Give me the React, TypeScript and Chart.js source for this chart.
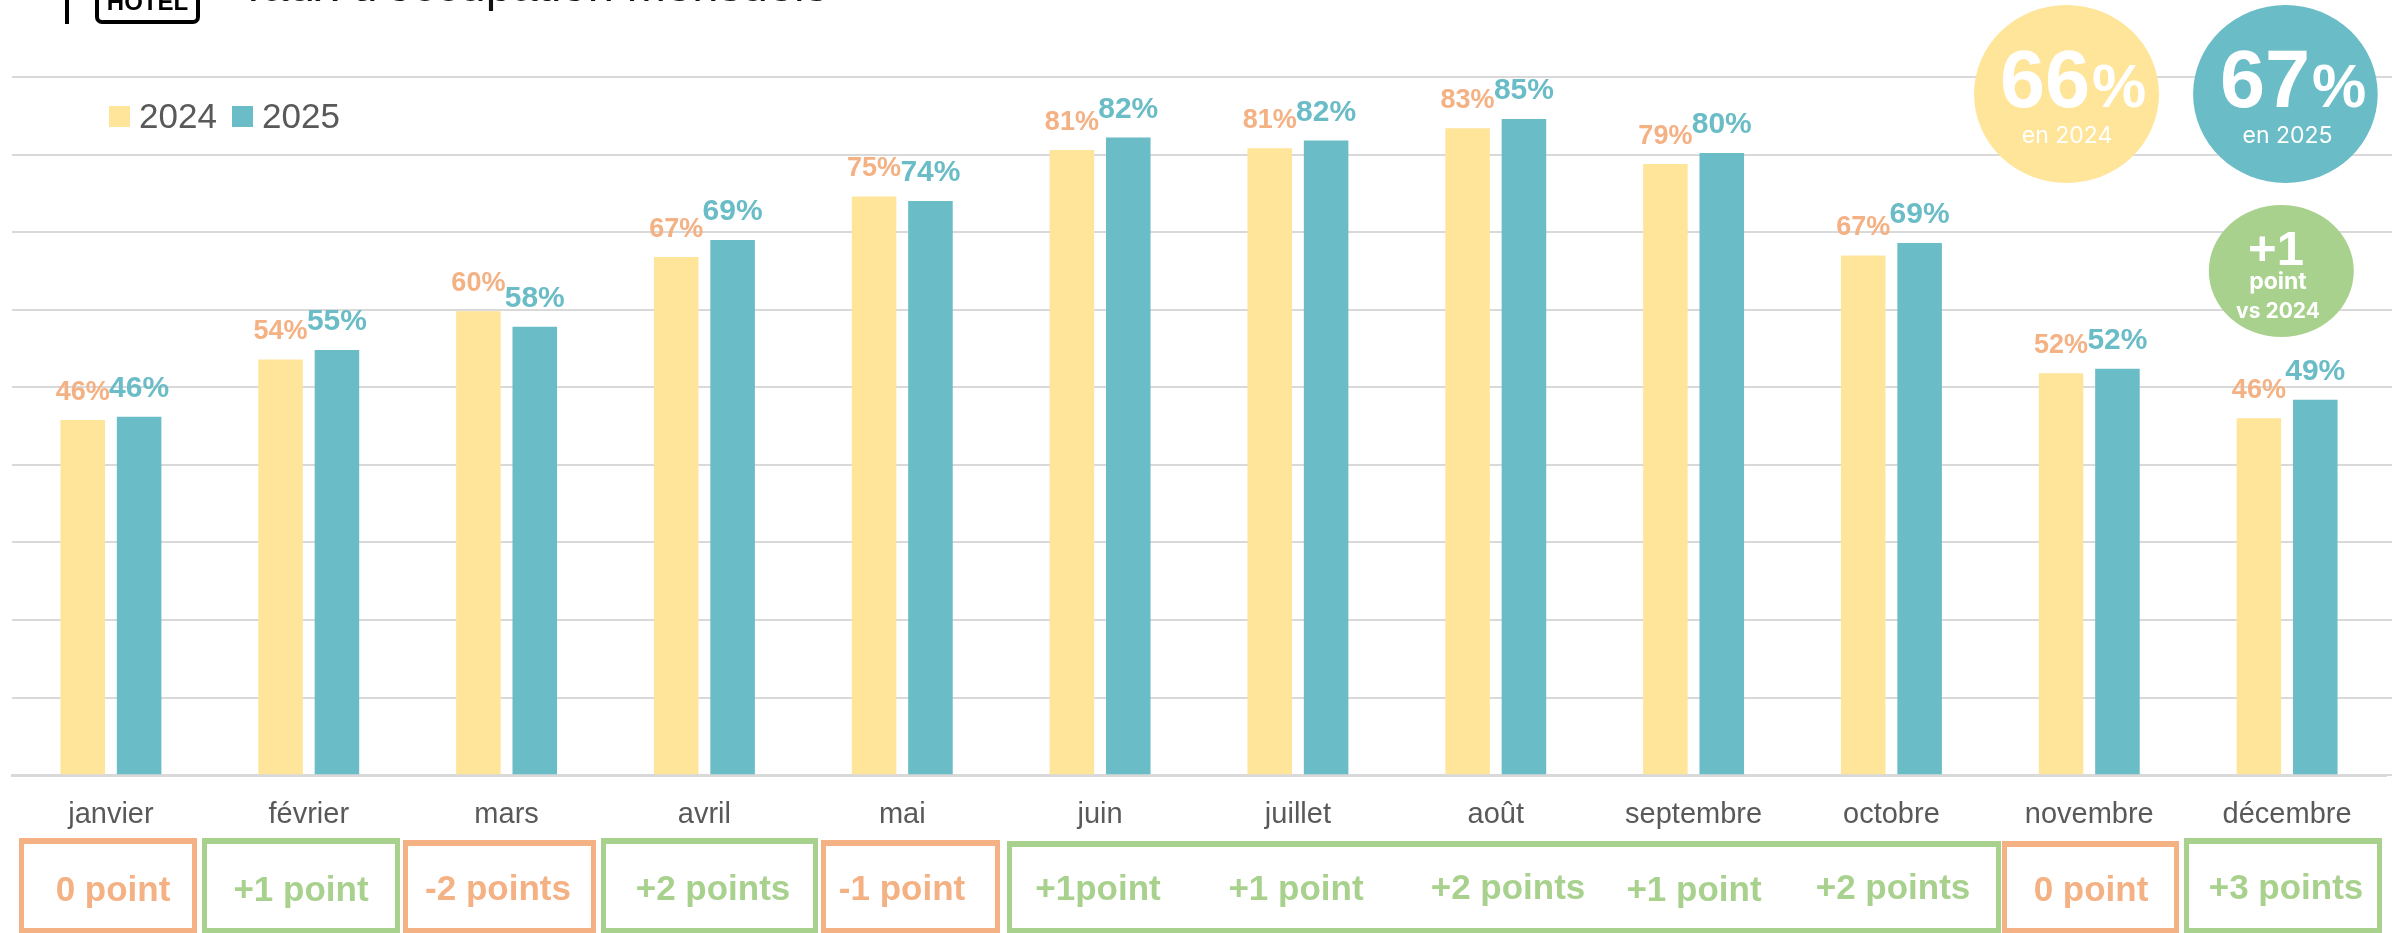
import React, { useEffect, useRef } from "react";
import { Chart, registerables } from "chart.js";

Chart.register(...registerables);

const months = ["janvier","février","mars","avril","mai","juin","juillet","août","septembre","octobre","novembre","décembre"];
const values2024 = [45.8,53.6,59.8,66.8,74.6,80.6,80.8,83.4,78.8,67.0,51.8,46.0];
const values2025 = [46.2,54.8,57.8,69.0,74.0,82.2,81.8,84.6,80.2,68.6,52.4,48.4];
const labels2024 = ["46%","54%","60%","67%","75%","81%","81%","83%","79%","67%","52%","46%"];
const labels2025 = ["46%","55%","58%","69%","74%","82%","82%","85%","80%","69%","52%","49%"];
const yearNames = ["2024","2025"];

const YELLOW = "#FFE599";
const TEAL = "#6ABCC6";
const ORANGE = "#F4B183";
const GREEN = "#A9D18E";
const GREY = "#595959";
const GRID = "#D9D9D9";
const SANS = "'Liberation Sans', Arial, sans-serif";
const INTER = "Inter, sans-serif";

type Box = { left: number; right: number; top: number; color: string };
const boxes: Box[] = [
  { left: 19, right: 197, top: 838, color: ORANGE },
  { left: 202, right: 400, top: 838, color: GREEN },
  { left: 403, right: 596, top: 840, color: ORANGE },
  { left: 601, right: 818, top: 838, color: GREEN },
  { left: 821, right: 1000, top: 840, color: ORANGE },
  { left: 1007, right: 2001, top: 841, color: GREEN },
  { left: 2002, right: 2179, top: 841, color: ORANGE },
  { left: 2184, right: 2382, top: 838, color: GREEN },
];
type Note = { text: string; cx: number; cy: number; color: string };
const notes: Note[] = [
  { text: "0 point", cx: 113, cy: 889, color: ORANGE },
  { text: "+1 point", cx: 301, cy: 889, color: GREEN },
  { text: "-2 points", cx: 498, cy: 888, color: ORANGE },
  { text: "+2 points", cx: 713, cy: 888, color: GREEN },
  { text: "-1 point", cx: 902, cy: 888, color: ORANGE },
  { text: "+1point", cx: 1098, cy: 888, color: GREEN },
  { text: "+1 point", cx: 1296, cy: 888, color: GREEN },
  { text: "+2 points", cx: 1508, cy: 887, color: GREEN },
  { text: "+1 point", cx: 1694, cy: 889, color: GREEN },
  { text: "+2 points", cx: 1893, cy: 887, color: GREEN },
  { text: "0 point", cx: 2091, cy: 889, color: ORANGE },
  { text: "+3 points", cx: 2286, cy: 887, color: GREEN },
];

const badgeDiscs = [
  { cx: 2066.5, cy: 94, rx: 92.5, ry: 89, color: YELLOW },
  { cx: 2285.4, cy: 94, rx: 92.3, ry: 89, color: TEAL },
  { cx: 2281.3, cy: 271, rx: 72.5, ry: 66, color: GREEN },
];
const badgeTexts = [
  { text: "66", x: 2000, y: 107, font: `bold 81px ${SANS}`, align: "left" },
  { text: "%", x: 2092, y: 107, font: `bold 61px ${SANS}`, align: "left" },
  { text: "67", x: 2220, y: 107, font: `bold 81px ${SANS}`, align: "left" },
  { text: "%", x: 2312, y: 107, font: `bold 61px ${SANS}`, align: "left" },
  { text: "en 2024", x: 2067, y: 143, font: `23px ${INTER}`, align: "center" },
  { text: "en 2025", x: 2287.5, y: 143, font: `23px ${INTER}`, align: "center" },
  { text: "+1", x: 2276, y: 265, font: `bold 49px ${SANS}`, align: "center" },
  { text: "point", x: 2278, y: 289, font: `bold 23px ${INTER}`, align: "center" },
  { text: "vs 2024", x: 2278, y: 318, font: `bold 21px ${INTER}`, align: "center" },
];

const abs = (o: React.CSSProperties): React.CSSProperties => ({ position: "absolute", ...o });

const gridExtension = {
  id: "gridExtension",
  beforeDatasetsDraw(chart: any) {
    const { ctx, chartArea, width } = chart;
    const y = chart.scales.y;
    ctx.save();
    ctx.strokeStyle = GRID;
    ctx.lineWidth = 2;
    y.ticks.forEach((t: any) => {
      const py = Math.round(y.getPixelForValue(t.value));
      ctx.beginPath();
      ctx.moveTo(chartArea.right, py);
      ctx.lineTo(width, py);
      ctx.stroke();
    });
    ctx.restore();
  },
};

const barLabels = {
  id: "barLabels",
  afterDatasetsDraw(chart: any) {
    const { ctx } = chart;
    const sets = [
      { labels: labels2024, color: ORANGE, font: `bold 27px ${SANS}` },
      { labels: labels2025, color: TEAL, font: `bold 30px ${SANS}` },
    ];
    sets.forEach((s, i) => {
      chart.getDatasetMeta(i).data.forEach((bar: any, k: number) => {
        ctx.save();
        ctx.font = s.font;
        ctx.fillStyle = s.color;
        ctx.textAlign = "center";
        ctx.textBaseline = "alphabetic";
        ctx.fillText(s.labels[k], bar.x, bar.y - 20);
        ctx.restore();
      });
    });
  },
};

const insetLegend = {
  id: "insetLegend",
  afterDatasetsDraw(chart: any) {
    const { ctx } = chart;
    const starts = [109, 232];
    chart.data.datasets.forEach((d: any, i: number) => {
      ctx.save();
      ctx.fillStyle = d.backgroundColor;
      ctx.fillRect(starts[i], 106, 21, 21);
      ctx.fillStyle = GREY;
      ctx.font = `35px ${SANS}`;
      ctx.textBaseline = "alphabetic";
      ctx.fillText(d.label, starts[i] + 30, 128);
      ctx.restore();
    });
  },
};

const badges = {
  id: "badges",
  afterDraw(chart: any) {
    const { ctx } = chart;
    ctx.save();
    badgeDiscs.forEach((d) => {
      ctx.fillStyle = d.color;
      ctx.beginPath();
      ctx.ellipse(d.cx, d.cy, d.rx, d.ry, 0, 0, Math.PI * 2);
      ctx.fill();
    });
    ctx.fillStyle = "#fff";
    ctx.textBaseline = "alphabetic";
    badgeTexts.forEach((t) => {
      ctx.font = t.font;
      ctx.textAlign = t.align;
      ctx.fillText(t.text, t.x, t.y);
    });
    ctx.restore();
  },
};

export default function App() {
  const ref = useRef<HTMLCanvasElement>(null);
  useEffect(() => {
    const chart = new Chart(ref.current!, {
      type: "bar",
      data: {
        labels: months,
        datasets: [
          { label: yearNames[0], data: values2024, backgroundColor: YELLOW, categoryPercentage: 0.57, barPercentage: 0.79 },
          { label: yearNames[1], data: values2025, backgroundColor: TEAL, categoryPercentage: 0.57, barPercentage: 0.79 },
        ],
      },
      options: {
        responsive: false,
        animation: false,
        layout: { padding: { left: 12, right: 6, top: 77, bottom: 87 } },
        plugins: {
          tooltip: { enabled: false },
          legend: { display: false },
        },
        scales: {
          x: {
            grid: { display: false },
            border: { display: true, color: GRID, width: 3 },
            ticks: { color: GREY, font: { family: SANS, size: 29 }, padding: 14, maxRotation: 0, autoSkip: false },
          },
          y: {
            min: 0,
            max: 90,
            ticks: { display: false, stepSize: 10 },
            grid: { color: GRID, lineWidth: 2, drawTicks: false },
            border: { display: false },
          },
        },
      },
      plugins: [gridExtension, barLabels, insetLegend, badges],
    } as any);
    return () => chart.destroy();
  }, []);

  return (
    <div style={abs({ left: 0, top: 0, width: 2392, height: 933, overflow: "hidden", background: "#fff", fontFamily: SANS })}>
      <canvas ref={ref} width={2392} height={933} style={{ position: "absolute", left: 0, top: 0 }} />
      <div style={abs({ left: 65, top: -20, width: 4, height: 44, background: "#000" })} />
      <div style={abs({ left: 95, top: -20, width: 105, height: 44, boxSizing: "border-box", border: "4px solid #000", borderRadius: 7, textAlign: "center", fontWeight: 700, fontSize: 24, lineHeight: "36px", color: "#000" })}>HOTEL</div>
      <div style={abs({ left: 239, top: -43, fontSize: 47, lineHeight: "56px", color: "#111", whiteSpace: "nowrap" })}>Taux d'occupation mensuels</div>

      {boxes.map((b, i) => (
        <div key={i} style={abs({ left: b.left, top: b.top, width: b.right - b.left, height: 933 - b.top, boxSizing: "border-box", border: `5px solid ${b.color}`, borderTopWidth: 6 })} />
      ))}
      {notes.map((n, i) => (
        <div key={i} style={abs({ left: n.cx - 120, width: 240, top: n.cy - 20, textAlign: "center", fontWeight: 700, fontSize: 35, lineHeight: "40px", color: n.color, whiteSpace: "nowrap" })}>{n.text}</div>
      ))}
    </div>
  );
}
